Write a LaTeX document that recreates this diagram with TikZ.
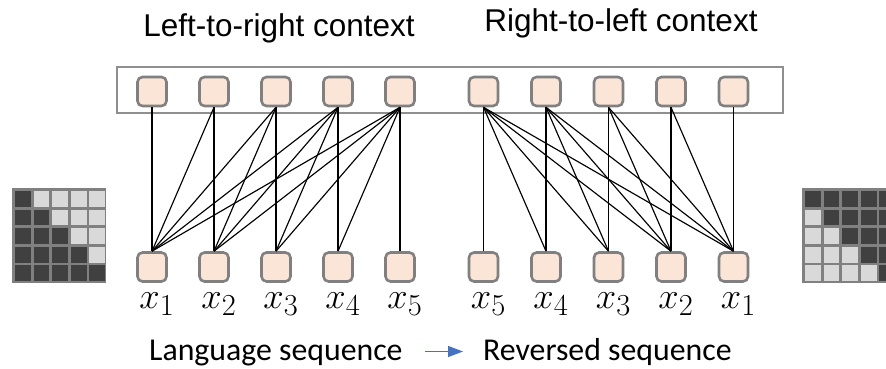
\documentclass[tikz,border=0pt]{standalone}
\usepackage{fontspec}
\newfontfamily\arialf{Liberation Sans}
\newfontfamily\calibrif{Carlito}
\usetikzlibrary{arrows.meta}
\definecolor{peach}{HTML}{FBE5D6}
\definecolor{nodegray}{HTML}{808080}
\definecolor{boxgray}{HTML}{8F8F8F}
\definecolor{darkcell}{HTML}{404040}
\definecolor{lightcell}{HTML}{D9D9D9}
\definecolor{gridgray}{HTML}{808080}
\definecolor{arrowblue}{HTML}{4472C4}
\newcommand{\xlab}[1]{\scalebox{1.47}{\fontsize{24.88}{24.88}\selectfont$x_{#1}$}}
\begin{document}
\begin{tikzpicture}[x=1pt,y=-1pt,
  tok/.style={draw=nodegray,line width=2.6pt,fill=peach,rounded corners=5pt,minimum size=29pt,inner sep=0pt},
  conn/.style={black,line width=1.15pt},
  labtext/.style={inner sep=0pt,anchor=base},
  titletext/.style={inner sep=0pt,anchor=base,font=\arialf\fontsize{31.5}{31.5}\selectfont},
  captext/.style={inner sep=0pt,anchor=base west,font=\calibrif\fontsize{31.8}{31.8}\selectfont}]
\useasboundingbox (0,0) rectangle (886,369);
% outer box
\draw[boxgray,line width=2.6pt] (117,67) rectangle (783,113);
% token nodes
\foreach \i/\x in {1/152,2/214,3/276,4/338,5/400}{
  \node[tok] (t\i) at (\x,91.5) {};
  \node[tok] (b\i) at (\x,267) {};
}
\foreach \i/\x in {1/483.5,2/546,3/608.5,4/671,5/733.5}{
  \node[tok] (rt\i) at (\x,91.5) {};
  \node[tok] (rb\i) at (\x,267) {};
}
% connections left
\foreach \i in {1,...,5}{
  \foreach \j in {1,...,\i}{
    \draw[conn] (t\i.south) -- (b\j.north);
  }
}
% connections right
\foreach \k in {1,...,5}{
  \foreach \j in {\k,...,5}{
    \draw[conn] (rt\k.south) -- (rb\j.north);
  }
}
% labels
\foreach \i in {1,...,5}{
  \node[labtext] (lx\i) at ([xshift=5pt]b\i.center |- 0,308) {\xlab{\i}};
}
\foreach \i/\n in {1/5,2/4,3/3,4/2,5/1}{
  \node[labtext] (rx\i) at ([xshift=5pt]rb\i.center |- 0,308) {\xlab{\n}};
}
% titles
\node[titletext] (ltitle) at (279,37) {Left-to-right context};
\node[titletext] (rtitle) at (621,32) {Right-to-left context};
% bottom captions
\node[captext] (lang) at (149,360) {Language sequence};
\node[captext] (rev) at (483,360) {Reversed sequence};
\coordinate (as) at (425,351.5);
\coordinate (ae) at (463,351.5);
\draw[arrowblue,line width=1.3pt,-{Triangle[length=15pt,width=11pt]}] (as) -- (ae);
% left matrix
\fill[gridgray] (12,188) rectangle (106,283);
\foreach \r in {0,...,4}{
  \foreach \c in {0,...,4}{
    \pgfmathsetmacro{\cx}{15+\c*18.6}
    \pgfmathsetmacro{\cy}{191+\r*18.6}
    \ifnum\c>\r
      \fill[lightcell] (\cx,\cy) rectangle ++(15.8,15.8);
    \else
      \fill[darkcell] (\cx,\cy) rectangle ++(15.8,15.8);
    \fi
  }
}
% right matrix (clipped at the edge)
\begin{scope}
\clip (0,0) rectangle (886,369);
\fill[gridgray] (802,188) rectangle (896,283);
\foreach \r in {0,...,4}{
  \foreach \c in {0,...,4}{
    \pgfmathsetmacro{\cx}{805+\c*18.6}
    \pgfmathsetmacro{\cy}{191+\r*18.6}
    \ifnum\c<\r
      \fill[lightcell] (\cx,\cy) rectangle ++(15.8,15.8);
    \else
      \fill[darkcell] (\cx,\cy) rectangle ++(15.8,15.8);
    \fi
  }
}
\end{scope}
\end{tikzpicture}
\end{document}
